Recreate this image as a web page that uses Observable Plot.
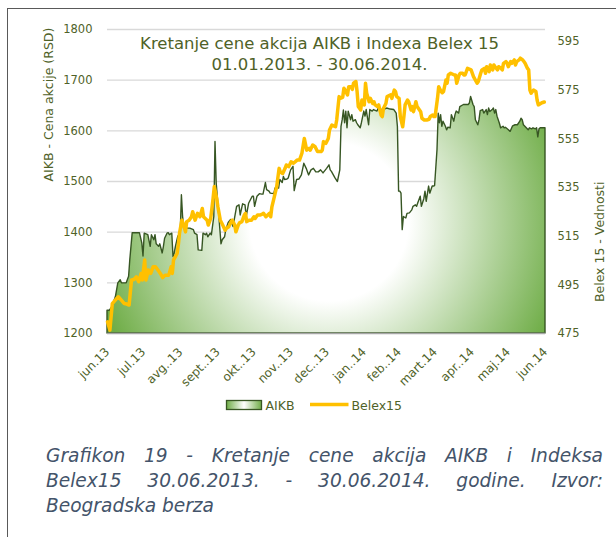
<!DOCTYPE html>
<html><head><meta charset="utf-8">
<script src="https://cdn.jsdelivr.net/npm/d3@7"></script>
<script src="https://cdn.jsdelivr.net/npm/@observablehq/plot@0.6"></script>
<style>
body{margin:0;background:#fff;font-family:"DejaVu Sans",sans-serif;}
#wrap{position:relative;width:616px;height:537px;overflow:hidden;background:#fff;}
#frame{position:absolute;left:7px;top:8px;width:700px;height:700px;border-left:1.5px solid #595959;border-top:1.5px solid #595959;}
#chart{position:absolute;left:0;top:0;}
#title{position:absolute;left:0;width:639px;top:33px;text-align:center;color:#4F6228;font-size:16.5px;line-height:21px;}
#legend{position:absolute;left:0;top:395px;}
#caption{position:absolute;left:46px;width:557px;top:443px;color:#44546A;font-style:italic;font-size:18.6px;line-height:25px;}
.just{text-align:justify;text-align-last:justify;}
</style></head><body>
<div id="wrap">
 <div id="frame"></div>
 <div id="chart"></div>
 <div id="title">Kretanje cene akcija AIKB i Indexa Belex 15<br>01.01.2013. - 30.06.2014.</div>
 <div id="legend"></div>
 <div id="caption"><div class="just">Grafikon 19 - Kretanje cene akcija AIKB i Indeksa</div><div class="just">Belex15 30.06.2013. - 30.06.2014. godine. Izvor:</div><div>Beogradska berza</div></div>
</div>
<script>
const pocetak = "2013-06-30";
const mesecDatumi = ["2013-06-30","2013-07-30","2013-08-30","2013-09-30","2013-10-30","2013-11-30","2013-12-30","2014-01-30","2014-02-28","2014-03-30","2014-04-30","2014-05-30","2014-06-30"];
const mesecOznake = ["jun.13","jul.13","avg..13","sept..13","okt..13","nov..13","dec..13","jan..14","feb..14","mart.14","apr..14","maj.14","jun.14"];
const leviTickovi = [1200,1300,1400,1500,1600,1700,1800];
const desniTickovi = [475,495,515,535,555,575,595];
const leviDomen = [1200,1800];
const desniDomen = [475,600];
const serije = ["AIKB","Belex15"];

// days after 30.06.2013
const aikbDan = [0,2,4,7,9,11,12,16,18,19,21,27,29,30,31,34,36,37,39,40,41,43,44,46,47,48,50,51,52,54,55,56,57,59,61,62,63,64,66,69,72,73,75,76,79,80,82,83,84,86,87,89,90,91,93,95,96,98,99,101,103,105,108,110,111,113,115,116,118,121,122,123,125,127,129,130,132,133,135,136,139,140,141,143,144,146,147,148,150,151,153,155,156,158,160,162,164,166,168,170,172,174,176,178,180,183,185,186,187,190,192,194,195,196,197,198,199,200,201,203,204,205,207,208,209,211,212,214,215,216,218,219,221,222,225,226,228,230,233,236,239,241,242,243,244,245,246,247,249,250,252,254,255,257,258,259,261,262,264,265,266,268,269,271,272,273,275,276,277,278,279,280,282,283,284,286,287,289,290,291,293,294,297,300,301,302,303,305,306,307,309,310,311,313,314,316,317,318,319,321,322,323,324,325,327,328,330,331,332,334,336,338,340,342,344,345,346,347,349,351,352,354,355,357,358,359,360,361,363,365];
const aikbCena = [1245,1245,1252,1272,1299,1305,1299,1299,1312,1345,1398,1398,1378,1352,1397,1394,1371,1394,1384,1394,1376,1371,1376,1358,1371,1387,1397,1398,1394,1397,1351,1358,1371,1391,1397,1473,1430,1410,1407,1407,1404,1397,1394,1364,1363,1397,1394,1397,1390,1397,1394,1430,1578,1496,1437,1376,1384,1390,1404,1418,1424,1410,1450,1453,1433,1455,1453,1430,1456,1470,1470,1450,1470,1475,1474,1474,1497,1483,1480,1476,1475,1486,1489,1486,1503,1497,1509,1503,1504,1506,1522,1529,1481,1503,1504,1512,1535,1525,1512,1522,1525,1518,1518,1522,1516,1525,1532,1522,1519,1506,1499,1522,1608,1621,1640,1615,1638,1605,1638,1621,1631,1618,1621,1615,1611,1605,1615,1638,1628,1641,1611,1641,1638,1641,1638,1644,1641,1641,1644,1642,1641,1634,1608,1480,1480,1476,1404,1430,1427,1436,1437,1443,1450,1453,1450,1457,1470,1450,1465,1480,1460,1490,1476,1490,1490,1491,1562,1634,1615,1631,1608,1618,1608,1601,1606,1605,1631,1618,1631,1638,1634,1647,1651,1651,1651,1654,1667,1651,1647,1621,1611,1621,1639,1641,1634,1641,1631,1644,1637,1641,1644,1634,1641,1628,1614,1605,1608,1605,1606,1602,1598,1609,1611,1611,1618,1624,1621,1611,1606,1601,1605,1603,1605,1603,1605,1587,1603,1605,1605,1605];

const belexDan = [0,2,4,7,9,11,14,16,18,20,22,24,26,28,29,31,32,34,36,38,40,42,44,46,48,51,53,54,55,58,59,60,62,63,65,66,68,70,71,73,75,77,79,80,83,84,86,88,89,91,92,94,96,98,99,101,103,104,106,107,109,110,112,114,115,116,118,120,122,123,125,127,129,130,132,135,136,137,139,141,143,144,146,148,149,151,153,155,158,160,162,164,166,168,169,171,173,175,178,179,180,182,184,185,187,190,191,193,194,196,197,198,200,201,203,204,205,207,208,209,211,212,214,215,216,218,219,221,222,223,225,226,228,229,230,232,233,236,237,239,240,241,243,244,246,247,248,250,251,253,254,255,257,258,259,261,262,264,266,268,269,271,272,273,275,276,278,279,280,282,283,284,286,289,290,291,293,294,296,297,298,300,303,305,308,309,311,312,314,315,316,318,319,321,322,323,325,326,328,329,330,332,333,334,336,337,339,340,341,343,344,346,347,348,350,351,352,353,354,355,357,358,359,361,362,364];
const belexVrednost = [479.8,476.4,487.3,489,490.1,489,487.3,487.1,486.7,497,497.2,498.3,496.3,499.7,497,505.2,497,501.1,499.7,502.4,502.4,501.1,499.7,498,499,499,502.4,499.7,505.2,507.9,511.4,516.2,521.6,520.3,516.8,521,521.6,523,525.1,521.6,524.4,523,526.4,523,521.6,519.6,522.3,530.6,535.4,530.6,527.1,521.6,519.6,517.5,518.2,518.9,521,521.6,519.6,516.8,519.6,520.5,521,523.7,524.4,521,521.6,521.6,523,522.3,523.7,523.7,524.1,524.4,523,524.4,523,527.1,531.2,535.4,542.9,541.5,540.8,542.9,544.3,543.6,545.6,545,546.3,546.3,549.1,555.2,550.4,551.1,550.4,552.5,551.8,549.8,549.8,550.4,553.9,553.2,555.2,558.7,560.7,560,562.8,572.4,571.7,572.1,575.8,575.1,573.1,576.5,576.5,575.4,577.9,578.6,574.5,568.3,566.9,571,569,577.9,573.8,570.3,571.7,569.6,570.3,569,568.3,569,564.8,564.2,567.6,569.6,572.4,573.1,571.7,575.1,574.5,572.4,571.7,564.2,560,564.2,569,571,570.3,566.9,568.3,566.2,570.3,568.3,567.6,566.2,563.5,562.8,562.8,563.1,564.2,564.8,564.2,564.2,571.7,576.5,574.5,574,574.5,579.2,577.9,581.3,582,581.3,581.3,577.9,581.3,582,582,581.3,581.3,584,583.4,580.6,577.9,578.6,582,583.4,584,582,584.7,582.7,585.4,583.4,585.4,584.7,583.4,584.7,584,583.4,586.1,586.8,586.1,584.7,586.8,586.1,587.5,585.4,586.8,587.5,588.2,587.5,586.8,586.1,584,583.4,575.1,573.8,574.5,575.1,574.5,571,569,569.6,569.9,570.2];

const F = '"DejaVu Sans", sans-serif';
const zelena = "#4F6228";
const t0 = new Date(pocetak);
const naLevu = v => leviDomen[0] + (v - desniDomen[0]) * (leviDomen[1] - leviDomen[0]) / (desniDomen[1] - desniDomen[0]);
const saLeve = v => desniDomen[0] + (v - leviDomen[0]) * (desniDomen[1] - desniDomen[0]) / (leviDomen[1] - leviDomen[0]);

const aikb = aikbDan.map((d, i) => ({datum: d3.utcDay.offset(t0, d), cena: aikbCena[i]}));
const belex = belexDan.map((d, i) => ({datum: d3.utcDay.offset(t0, d), v: belexVrednost[i]}));
const tickDatumi = mesecDatumi.map(s => new Date(s));
const xOznake = tickDatumi.map((d, i) => ({datum: d, oznaka: mesecOznake[i]}));

const chart = Plot.plot({
  width: 616, height: 400,
  marginLeft: 107, marginRight: 71, marginTop: 29, marginBottom: 67,
  style: {fontFamily: F, fontSize: "11.5px", color: zelena, background: "transparent", overflow: "visible"},
  x: {type: "utc", axis: null, domain: [tickDatumi[0], tickDatumi[tickDatumi.length - 1]]},
  y: {domain: leviDomen},
  marks: [
    Plot.gridY(leviTickovi.slice(1), {stroke: "#d9d9d9", strokeOpacity: 1, strokeWidth: 1.3}),
    Plot.areaY(aikb, {x: "datum", y1: leviDomen[0], y2: "cena", fill: "url(#aikbGrad)", stroke: "#375623", strokeWidth: 1.4, strokeLinejoin: "round"}),
    Plot.ruleY([leviDomen[0]], {stroke: "#a6a6a6", strokeWidth: 1.3}),
    Plot.lineY(belex, {x: "datum", y: d => naLevu(d.v), stroke: "#FFC000", strokeWidth: 3.5, strokeLinejoin: "round"}),
    Plot.axisY(leviTickovi, {anchor: "left", tickSize: 0, tickPadding: 15, label: null, fill: zelena, tickFormat: d => String(d)}),
    Plot.axisY(desniTickovi.map(naLevu), {anchor: "right", tickSize: 0, tickPadding: 12, label: null, fill: zelena, tickFormat: d => String(Math.round(saLeve(d)))}),
    Plot.text(xOznake, {x: "datum", text: "oznaka", frameAnchor: "bottom", dy: 16.5, dx: 0, rotate: -45, textAnchor: "end", lineAnchor: "middle", fontSize: 12, fill: zelena}),
    Plot.text(["AIKB - Cena akcije (RSD)"], {frameAnchor: "left", dx: -59, rotate: -90, fontSize: 12.5, fill: zelena}),
    Plot.text(["Belex 15 - Vednosti"], {frameAnchor: "right", dx: 54, rotate: -90, fontSize: 12.5, fill: zelena})
  ]
});

const sx = chart.scale("x"), sy = chart.scale("y");
const cx = sx.apply(d3.utcDay.offset(t0, 185));
const cy = sy.apply(1420);
const r = 0.55 * (sx.apply(tickDatumi[12]) - sx.apply(tickDatumi[0]));
const ns = "http://www.w3.org/2000/svg";
const defs = document.createElementNS(ns, "defs");
defs.innerHTML = `<radialGradient id="aikbGrad" gradientUnits="userSpaceOnUse" cx="${cx}" cy="${cy}" r="${r}">
  <stop offset="0" stop-color="#ffffff"/><stop offset="0.33" stop-color="#ffffff"/><stop offset="1" stop-color="#6FAD47"/></radialGradient>`;
chart.insertBefore(defs, chart.firstChild);
document.getElementById("chart").appendChild(chart);

// legend
const leg = d3.select("#legend").append("svg").attr("width", 616).attr("height", 24)
  .style("font-family", F).style("font-size", "12.5px");
const lg = leg.append("defs").append("linearGradient").attr("id", "legGrad");
lg.append("stop").attr("offset", 0).attr("stop-color", "#6FAD47");
lg.append("stop").attr("offset", 0.5).attr("stop-color", "#ffffff");
lg.append("stop").attr("offset", 1).attr("stop-color", "#6FAD47");
leg.append("rect").attr("x", 226.5).attr("y", 5.5).attr("width", 35).attr("height", 9).attr("fill", "url(#legGrad)").attr("stroke", "#375623").attr("stroke-width", 1.3);
leg.append("text").attr("x", 265.5).attr("y", 14.5).attr("fill", zelena).text(serije[0]);
leg.append("line").attr("x1", 310).attr("x2", 348.5).attr("y1", 9.5).attr("y2", 9.5).attr("stroke", "#FFC000").attr("stroke-width", 3.3);
leg.append("text").attr("x", 351.5).attr("y", 14.5).attr("fill", zelena).text(serije[1]);
</script>
</body></html>
